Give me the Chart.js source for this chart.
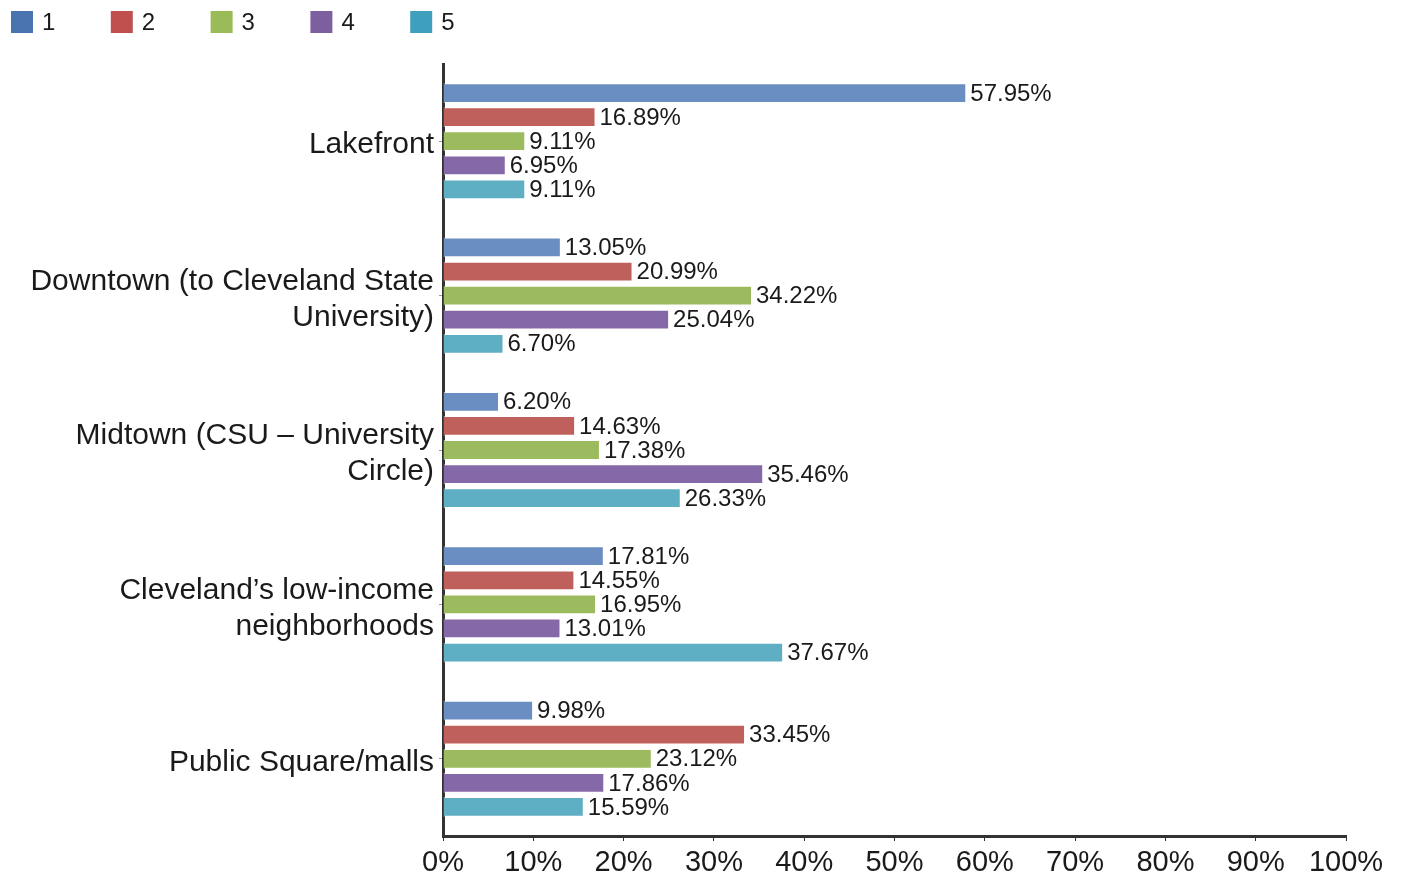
<!DOCTYPE html>
<html>
<head>
<meta charset="utf-8">
<script src="https://cdn.jsdelivr.net/npm/chart.js@4/dist/chart.umd.min.js"></script>
<style>
  html, body { margin: 0; padding: 0; background: #fff; }
  #wrap { width: 1402px; height: 880px; }
</style>
</head>
<body>
<div id="wrap"><canvas id="chart"></canvas></div>
<script>
const categories = [
    'Lakefront',
    ['Downtown (to Cleveland State', 'University)'],
    ['Midtown (CSU \u2013 University', 'Circle)'],
    ['Cleveland\u2019s low-income', 'neighborhoods'],
    'Public Square/malls'
];
const seriesNames = ['1', '2', '3', '4', '5'];
const series1 = [57.95, 13.05, 6.20, 17.81, 9.98];
const series2 = [16.89, 20.99, 14.63, 14.55, 33.45];
const series3 = [9.11, 34.22, 17.38, 16.95, 23.12];
const series4 = [6.95, 25.04, 35.46, 13.01, 17.86];
const series5 = [9.11, 6.70, 26.33, 37.67, 15.59];
const xTicks = [0, 10, 20, 30, 40, 50, 60, 70, 80, 90, 100];

const barColors = ['#6a8ec2', '#c0605d', '#9cbb5f', '#8568a8', '#5eaec4'];
const legendColors = ['#4a74b0', '#c0504d', '#9bbb59', '#7d5fa0', '#3fa0bd'];
const FONT = '"Liberation Sans", Arial, sans-serif';

// value labels drawn at the end of each bar
const valueLabels = {
    id: 'valueLabels',
    afterDatasetsDraw(chart) {
        const ctx = chart.ctx;
        ctx.save();
        ctx.font = '24px ' + FONT;
        ctx.fillStyle = '#1a1a1a';
        ctx.textAlign = 'left';
        ctx.textBaseline = 'middle';
        chart.data.datasets.forEach((ds, i) => {
            chart.getDatasetMeta(i).data.forEach((bar, j) => {
                ctx.fillText(ds.data[j].toFixed(2) + '%', bar.x + 4, bar.y + 1);
            });
        });
        ctx.restore();
    }
};

// simple legend row in the top left corner, one item every 100px
const topLegend = {
    id: 'topLegend',
    afterDraw(chart) {
        const ctx = chart.ctx;
        ctx.save();
        ctx.font = '24px ' + FONT;
        ctx.textBaseline = 'middle';
        chart.data.datasets.forEach((ds, i) => {
            const x = 11 + i * 99.8;
            ctx.fillStyle = legendColors[i];
            ctx.fillRect(x, 11, 22, 22);
            ctx.fillStyle = '#1a1a1a';
            ctx.fillText(ds.label, x + 31, 23);
        });
        ctx.restore();
    }
};

const allSeries = [series1, series2, series3, series4, series5];

const ctx = document.getElementById('chart').getContext('2d');
new Chart(ctx, {
    type: 'bar',
    data: {
        labels: categories,
        datasets: allSeries.map((s, i) => ({
            label: seriesNames[i],
            data: s,
            backgroundColor: barColors[i],
            borderColor: 'rgba(255,255,255,0.5)',
            borderWidth: 1,
            barPercentage: 0.82,
            categoryPercentage: 0.78
        }))
    },
    options: {
        indexAxis: 'y',
        responsive: true,
        maintainAspectRatio: false,
        animation: false,
        layout: {
            padding: { left: 10, right: 56, top: 64, bottom: 0 }
        },
        plugins: {
            legend: { display: false },
            tooltip: { enabled: false }
        },
        scales: {
            x: {
                min: 0,
                max: 100,
                afterBuildTicks(axis) {
                    axis.ticks = xTicks.map(v => ({ value: v }));
                },
                afterFit(axis) { axis.height = 44; },
                ticks: {
                    color: '#1a1a1a',
                    padding: 5,
                    font: { family: FONT, size: 29 },
                    callback: v => v + '%'
                },
                grid: {
                    drawOnChartArea: false,
                    drawTicks: true,
                    tickLength: 5,
                    color: '#333'
                },
                border: { color: '#333', width: 3 }
            },
            y: {
                afterFit(axis) { axis.width = 433; },
                ticks: {
                    color: '#1a1a1a',
                    padding: 5,
                    labelOffset: 4,
                    font: { family: FONT, size: 30, lineHeight: 1.2 }
                },
                grid: {
                    offset: false,
                    drawOnChartArea: false,
                    drawTicks: true,
                    tickLength: 4,
                    color: '#999'
                },
                border: { color: '#333', width: 3 }
            }
        }
    },
    plugins: [valueLabels, topLegend]
});
</script>
</body>
</html>
